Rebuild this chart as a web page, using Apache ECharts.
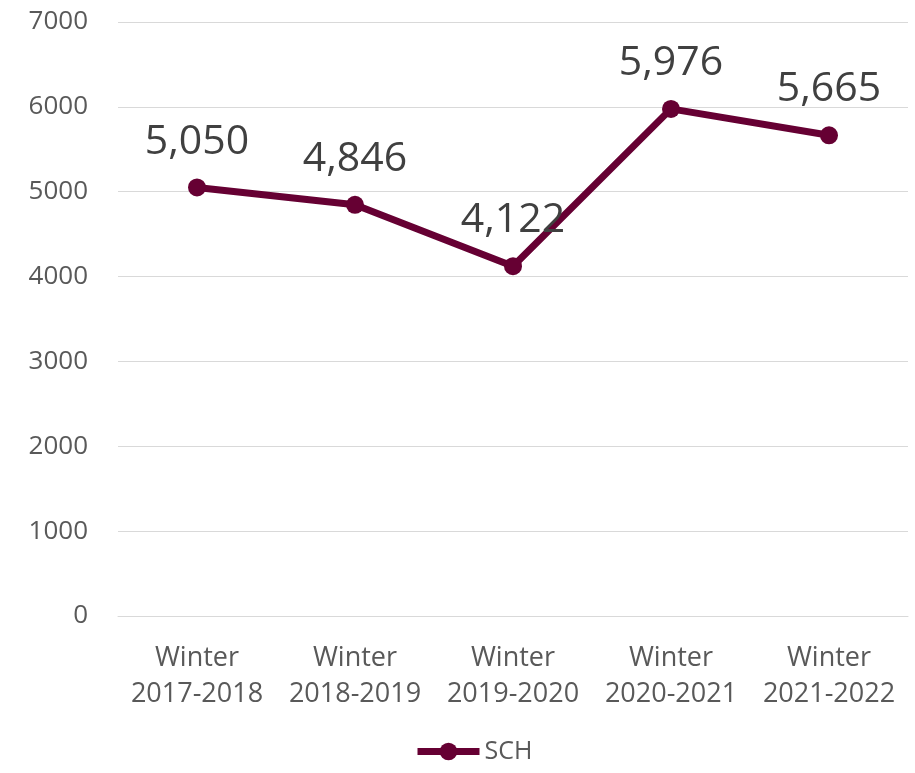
<!DOCTYPE html>
<html><head><meta charset="utf-8">
<script src="https://cdn.jsdelivr.net/npm/echarts@6/dist/echarts.min.js"></script>
<style>html,body{margin:0;padding:0;background:#fff}#c{width:915px;height:773px}</style>
</head><body><div id="c"></div>
<script>
const categories = ['Winter\n2017-2018','Winter\n2018-2019','Winter\n2019-2020','Winter\n2020-2021','Winter\n2021-2022'];
const sch = [5050, 4846, 4122, 5976, 5665];
const seriesName = 'SCH';
const chart = echarts.init(document.getElementById('c'));
const font = '"Open Sans", "Noto Sans", sans-serif';
chart.setOption({
  animation: false,
  textStyle: {fontFamily: font},
  grid: {left: 118, right: 7, top: 22, bottom: 157, containLabel: false},
  legend: {
    bottom: 4, left: 409, itemWidth: 62, itemHeight: 22, itemGap: 4,
    data: [seriesName],
    lineStyle: {width: 7},
    textStyle: {fontSize: 25, color: '#595959', fontFamily: font}
  },
  xAxis: {
    type: 'category', data: categories,
    axisLine: {show: true, lineStyle: {color: '#d9d9d9', width: 1}},
    axisTick: {show: false},
    axisLabel: {fontSize: 27, color: '#595959', lineHeight: 36, margin: 24, interval: 0, fontFamily: font}
  },
  yAxis: {
    type: 'value', min: 0, max: 7000, interval: 1000,
    axisLine: {show: false}, axisTick: {show: false},
    splitLine: {lineStyle: {color: '#d9d9d9', width: 1}},
    axisLabel: {fontSize: 26, color: '#595959', margin: 30, fontFamily: font, formatter: v => String(v)}
  },
  series: [{
    name: seriesName, type: 'line', data: sch,
    lineStyle: {color: '#660033', width: 7},
    itemStyle: {color: '#660033'},
    symbol: 'circle', symbolSize: 18,
    label: {
      show: true, position: 'top', distance: 16, fontSize: 41, color: '#404040', fontFamily: font,
      formatter: p => p.value.toLocaleString('en-US')
    }
  }]
});
</script></body></html>
